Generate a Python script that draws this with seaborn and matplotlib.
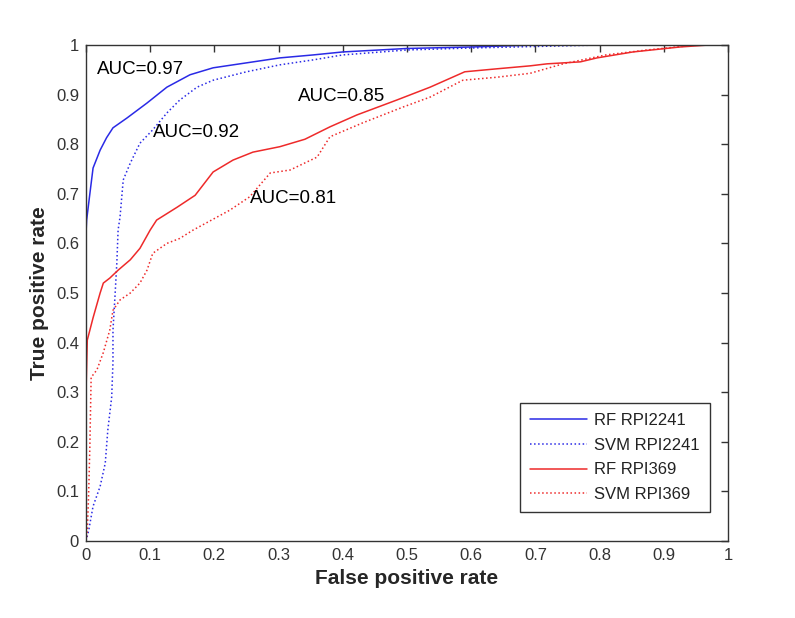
import numpy as np
import pandas as pd
import matplotlib
matplotlib.use("Agg")
import matplotlib.pyplot as plt
import seaborn as sns
from matplotlib.ticker import FuncFormatter

# ---- data ----
rf2241_fpr = [0.0, 0.0, 0.001, 0.006, 0.011, 0.022, 0.032, 0.042, 0.064, 0.095, 0.126, 0.162, 0.198, 0.25, 0.302, 0.354, 0.40, 0.5, 0.6, 0.7, 0.8, 0.9, 1.0]
rf2241_tpr = [0.0, 0.62, 0.647, 0.70, 0.752, 0.788, 0.813, 0.833, 0.853, 0.883, 0.915, 0.94, 0.954, 0.964, 0.974, 0.98, 0.986, 0.993, 0.996, 1.0, 1.0, 1.0, 1.0]

svm2241_fpr = [0.0, 0.004, 0.011, 0.022, 0.03, 0.034, 0.04, 0.042, 0.042, 0.045, 0.048, 0.05, 0.053, 0.058, 0.069, 0.084, 0.104, 0.126, 0.146, 0.173, 0.198, 0.25, 0.302, 0.354, 0.40, 0.5, 0.6, 0.7, 0.8, 1.0]
svm2241_tpr = [0.0, 0.02, 0.07, 0.11, 0.157, 0.224, 0.29, 0.36, 0.425, 0.49, 0.56, 0.627, 0.653, 0.728, 0.762, 0.802, 0.829, 0.863, 0.889, 0.915, 0.929, 0.946, 0.96, 0.97, 0.98, 0.99, 0.994, 0.997, 1.0, 1.0]

rf369_fpr = [0.0, 0.0, 0.002, 0.011, 0.022, 0.027, 0.037, 0.05, 0.069, 0.084, 0.1, 0.11, 0.142, 0.17, 0.198, 0.229, 0.26, 0.302, 0.341, 0.38, 0.422, 0.484, 0.536, 0.59, 0.64, 0.692, 0.718, 0.77, 0.796, 0.852, 0.925, 0.97, 1.0]
rf369_tpr = [0.0, 0.30, 0.405, 0.45, 0.50, 0.52, 0.53, 0.546, 0.567, 0.59, 0.627, 0.647, 0.673, 0.697, 0.744, 0.768, 0.784, 0.795, 0.81, 0.835, 0.859, 0.889, 0.915, 0.946, 0.952, 0.958, 0.962, 0.966, 0.974, 0.986, 0.996, 1.0, 1.0]

svm369_fpr = [0.0, 0.002, 0.004, 0.006, 0.008, 0.017, 0.027, 0.037, 0.042, 0.053, 0.069, 0.084, 0.095, 0.104, 0.126, 0.146, 0.167, 0.224, 0.255, 0.287, 0.318, 0.36, 0.38, 0.431, 0.494, 0.536, 0.587, 0.64, 0.692, 0.743, 0.81, 0.874, 0.905, 0.95, 1.0]
svm369_tpr = [0.0, 0.02, 0.09, 0.19, 0.33, 0.345, 0.38, 0.425, 0.465, 0.486, 0.50, 0.52, 0.546, 0.58, 0.60, 0.61, 0.627, 0.667, 0.694, 0.742, 0.748, 0.774, 0.815, 0.843, 0.875, 0.895, 0.929, 0.935, 0.943, 0.962, 0.98, 0.99, 0.994, 1.0, 1.0]

series_names = ["RF RPI2241", "SVM RPI2241", "RF RPI369", "SVM RPI369"]
auc_labels = ["AUC=0.97", "AUC=0.92", "AUC=0.85", "AUC=0.81"]
auc_pos_x = [0.017, 0.104, 0.33, 0.255]
auc_pos_y = [0.95, 0.823, 0.897, 0.69]
tick_values = [0, 0.1, 0.2, 0.3, 0.4, 0.5, 0.6, 0.7, 0.8, 0.9, 1.0]

sns.set_style("white")
plt.rcParams["font.family"] = ["Liberation Sans", "DejaVu Sans"]

fig = plt.figure(figsize=(7.95, 6.18), dpi=100)
ax = fig.add_axes([86 / 795, 1 - 541 / 618, (728 - 86) / 795, (541 - 45) / 618])

frames = []
for name, fx, ty in [(series_names[0], rf2241_fpr, rf2241_tpr),
                     (series_names[1], svm2241_fpr, svm2241_tpr),
                     (series_names[2], rf369_fpr, rf369_tpr),
                     (series_names[3], svm369_fpr, svm369_tpr)]:
    frames.append(pd.DataFrame({"fpr": fx, "tpr": ty, "model": name}))
df = pd.concat(frames, ignore_index=True)

colors = {"RF RPI2241": "#2a2ae6", "SVM RPI2241": "#2a2ae6",
          "RF RPI369": "#ee2a2a", "SVM RPI369": "#ee2a2a"}
styles = {"RF RPI2241": "-", "SVM RPI2241": ":", "RF RPI369": "-", "SVM RPI369": ":"}

for name in series_names:
    sub = df[df["model"] == name]
    sns.lineplot(data=sub, x="fpr", y="tpr", sort=False, estimator=None,
                 color=colors[name], linestyle=styles[name], linewidth=1.1,
                 label=name, ax=ax)

for lab, px, py in zip(auc_labels, auc_pos_x, auc_pos_y):
    ax.text(px, py, lab, fontsize=13.5, color="black", ha="left", va="center")

ax.set_xlim(0, 1)
ax.set_ylim(0, 1)
ax.set_xticks(tick_values)
ax.set_yticks(tick_values)
fmt = FuncFormatter(lambda v, p: ("%g" % round(v, 2)))
ax.xaxis.set_major_formatter(fmt)
ax.yaxis.set_major_formatter(fmt)
ax.tick_params(direction="in", top=True, right=True, length=5, width=1,
               labelsize=12, labelcolor="#333333", color="#333333", pad=5)
for s in ax.spines.values():
    s.set_visible(True)
    s.set_color("#333333")
    s.set_linewidth(1)

ax.set_xlabel("False positive rate", fontsize=15, fontweight="bold", labelpad=4)
ax.set_ylabel("True positive rate", fontsize=15, fontweight="bold", labelpad=5)

leg = ax.legend(loc="lower right", bbox_to_anchor=(1 - 18 / 642, 29 / 496),
                fontsize=12, frameon=True, fancybox=False, edgecolor="black",
                handlelength=3.4, borderpad=0.6, labelspacing=0.58,
                handletextpad=0.45, borderaxespad=0)
leg.get_frame().set_linewidth(1)
for t in leg.get_texts():
    t.set_color("#222222")

fig.savefig("out.png", dpi=100)
